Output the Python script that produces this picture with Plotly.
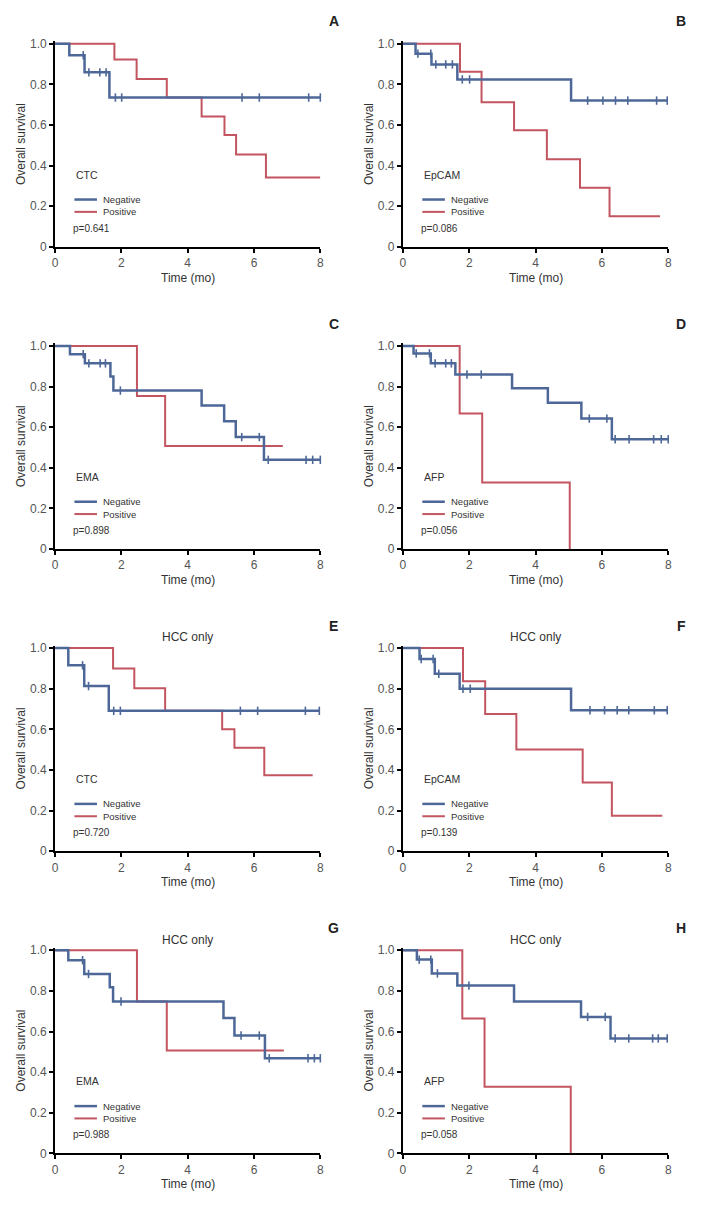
"""
Kaplan-Meier overall survival, 8 panels (A-D all patients, E-H HCC only).
"""

import plotly.graph_objects as go

BLUE = "#4d6898"
RED = "#c25560"
FONT = "Liberation Sans, Arial, sans-serif"

# ---- A: CTC ----
a_neg_t = [0, 0.43, 0.89, 1.64, 8.0]
a_neg_s = [1.0, 0.943, 0.859, 0.735, 0.735]
a_neg_cens = [0.85, 1.02, 1.35, 1.54, 1.82, 2.01, 5.64, 6.16, 7.65, 8.0]
a_pos_t = [0, 1.79, 2.46, 3.37, 4.42, 5.11, 5.46, 6.36, 8.0]
a_pos_s = [1.0, 0.922, 0.826, 0.735, 0.642, 0.551, 0.455, 0.341, 0.341]

# ---- B: EpCAM ----
b_neg_t = [0, 0.38, 0.86, 1.64, 5.07, 7.97]
b_neg_s = [1.0, 0.951, 0.898, 0.824, 0.72, 0.72]
b_neg_cens = [0.45, 0.84, 0.99, 1.29, 1.49, 1.79, 2.01, 5.57, 6.03, 6.41, 6.78, 7.65, 7.97]
b_pos_t = [0, 1.72, 2.37, 3.35, 4.34, 5.34, 6.23, 7.75]
b_pos_s = [1.0, 0.862, 0.712, 0.574, 0.431, 0.291, 0.151, 0.151]

# ---- C: EMA ----
c_neg_t = [0, 0.45, 0.90, 1.67, 1.76, 4.42, 5.10, 5.45, 6.30, 8.0]
c_neg_s = [1.0, 0.959, 0.914, 0.849, 0.78, 0.706, 0.629, 0.551, 0.439, 0.439]
c_neg_cens = [0.85, 1.02, 1.36, 1.52, 1.97, 5.63, 6.16, 6.43, 7.57, 7.77, 8.0]
c_pos_t = [0, 2.47, 3.32, 6.87]
c_pos_s = [1.0, 0.753, 0.507, 0.507]

# ---- D: AFP ----
d_neg_t = [0, 0.32, 0.84, 1.58, 3.29, 4.37, 5.38, 6.30, 8.0]
d_neg_s = [1.0, 0.963, 0.914, 0.859, 0.792, 0.72, 0.642, 0.54, 0.54]
d_neg_cens = [0.40, 0.80, 0.97, 1.29, 1.46, 1.93, 2.36, 5.62, 6.15, 6.40, 6.82, 7.56, 7.79, 8.0]
d_pos_t = [0, 1.71, 2.39, 5.03]
d_pos_s = [1.0, 0.667, 0.328, 0.0]

# ---- E: CTC, HCC only ----
e_neg_t = [0, 0.40, 0.88, 1.62, 7.97]
e_neg_s = [1.0, 0.915, 0.813, 0.691, 0.691]
e_neg_cens = [0.83, 1.01, 1.77, 1.97, 5.59, 6.11, 7.55, 7.97]
e_pos_t = [0, 1.75, 2.39, 3.32, 5.04, 5.41, 6.31, 7.77]
e_pos_s = [1.0, 0.899, 0.802, 0.691, 0.6, 0.509, 0.374, 0.374]

# ---- F: EpCAM, HCC only ----
f_neg_t = [0, 0.50, 0.96, 1.71, 5.07, 7.97]
f_neg_s = [1.0, 0.946, 0.873, 0.80, 0.694, 0.694]
f_neg_cens = [0.55, 0.91, 1.08, 1.81, 2.03, 5.64, 6.08, 6.46, 6.81, 7.58, 7.97]
f_pos_t = [0, 1.81, 2.48, 3.42, 5.42, 6.30, 7.82]
f_pos_s = [1.0, 0.837, 0.675, 0.501, 0.338, 0.174, 0.174]

# ---- G: EMA, HCC only ----
g_neg_t = [0, 0.40, 0.88, 1.65, 1.75, 5.08, 5.41, 6.33, 8.0]
g_neg_s = [1.0, 0.951, 0.883, 0.818, 0.748, 0.667, 0.58, 0.468, 0.468]
g_neg_cens = [0.83, 1.01, 1.99, 5.61, 6.16, 6.46, 7.63, 7.82, 8.0]
g_pos_t = [0, 2.47, 3.37, 6.90]
g_pos_s = [1.0, 0.748, 0.507, 0.507]

# ---- H: AFP, HCC only ----
h_neg_t = [0, 0.42, 0.87, 1.64, 3.35, 5.37, 6.26, 7.97]
h_neg_s = [1.0, 0.954, 0.886, 0.826, 0.748, 0.672, 0.566, 0.566]
h_neg_cens = [0.49, 0.84, 1.04, 1.99, 5.57, 6.10, 6.40, 6.81, 7.53, 7.70, 7.97]
h_pos_t = [0, 1.79, 2.46, 5.06]
h_pos_s = [1.0, 0.664, 0.328, 0.0]

letters = ["A", "B", "C", "D", "E", "F", "G", "H"]
markers = ["CTC", "EpCAM", "EMA", "AFP", "CTC", "EpCAM", "EMA", "AFP"]
p_values = ["0.641", "0.086", "0.898", "0.056", "0.720", "0.139", "0.988", "0.058"]
hcc_only = [False, False, False, False, True, True, True, True]
y_ticks = [0, 0.2, 0.4, 0.6, 0.8, 1.0]
y_tick_text = ["0", "0.2", "0.4", "0.6", "0.8", "1.0"]
x_ticks = [0, 2, 4, 6, 8]

panels = [
    (a_neg_t, a_neg_s, a_neg_cens, a_pos_t, a_pos_s),
    (b_neg_t, b_neg_s, b_neg_cens, b_pos_t, b_pos_s),
    (c_neg_t, c_neg_s, c_neg_cens, c_pos_t, c_pos_s),
    (d_neg_t, d_neg_s, d_neg_cens, d_pos_t, d_pos_s),
    (e_neg_t, e_neg_s, e_neg_cens, e_pos_t, e_pos_s),
    (f_neg_t, f_neg_s, f_neg_cens, f_pos_t, f_pos_s),
    (g_neg_t, g_neg_s, g_neg_cens, g_pos_t, g_pos_s),
    (h_neg_t, h_neg_s, h_neg_cens, h_pos_t, h_pos_s),
]

# page body has an 8px margin; figure sized so the page fits the window
OFF = 8
W, H = 702 - 2 * OFF, 1208 - 2 * OFF
Y_TOP = 1.012  # small headroom so the 1.0 line is not clipped
col_px = [(52.5, 320.5), (404, 672)]
row_px = [(40, 245), (345, 550), (650, 855), (955, 1160)]


def step_value(ts, ss, x):
    val = ss[0]
    for t, s in zip(ts, ss):
        if t <= x:
            val = s
    return val


fig = go.Figure()
annotations = []
shapes = []


def note(text, x, y, xd, yd, size=10, **kw):
    kw.setdefault("xanchor", "left")
    annotations.append(dict(
        text=text, x=x, y=y, xref=xd, yref=yd, yanchor="middle",
        showarrow=False, font=dict(family=FONT, size=size, color="#333333"), **kw,
    ))


for i, (neg_t, neg_s, neg_c, pos_t, pos_s) in enumerate(panels):
    n = i + 1
    xa = "x" if n == 1 else f"x{n}"
    ya = "y" if n == 1 else f"y{n}"
    row, col = divmod(i, 2)
    x0, x1 = col_px[col]
    y0, y1 = row_px[row]
    y0 = y1 - (y1 - y0) * Y_TOP

    fig.add_trace(go.Scatter(
        x=pos_t, y=pos_s, mode="lines", line=dict(color=RED, width=2, shape="hv"),
        xaxis=xa, yaxis=ya, showlegend=False, name="Positive",
    ))
    fig.add_trace(go.Scatter(
        x=neg_t, y=neg_s, mode="lines", line=dict(color=BLUE, width=2.5, shape="hv"),
        xaxis=xa, yaxis=ya, showlegend=False, name="Negative",
    ))
    fig.add_trace(go.Scatter(
        x=neg_c, y=[step_value(neg_t, neg_s, c) for c in neg_c], mode="markers",
        marker=dict(symbol="line-ns", size=6, line=dict(color=BLUE, width=1.6)),
        xaxis=xa, yaxis=ya, showlegend=False, cliponaxis=False, hoverinfo="skip",
    ))

    axis_common = dict(
        showline=True, linecolor="black", linewidth=2, ticks="outside",
        ticklen=4, tickwidth=1.5, tickcolor="black", showgrid=False, zeroline=False,
        tickfont=dict(family=FONT, size=12, color="#555555"),
    )
    fig.layout[f"xaxis{'' if n == 1 else n}"] = dict(
        axis_common, domain=[(x0 - OFF) / W, (x1 - OFF) / W], range=[0, 8],
        tickvals=x_ticks, anchor=ya,
    )
    fig.layout[f"yaxis{'' if n == 1 else n}"] = dict(
        axis_common, domain=[1 - (y1 - OFF) / H, 1 - (y0 - OFF) / H],
        range=[0, Y_TOP], tickvals=y_ticks, ticktext=y_tick_text, anchor=xa,
    )

    xd, yd = f"{xa} domain", f"{ya} domain"
    note("Time (mo)", 0.5, 0, xd, yd, size=12, xanchor="center", yshift=-31)
    note("Overall survival", 0, 0.5, xd, yd, size=12, xanchor="center",
         xshift=-34, textangle=-90)
    annotations.append(dict(
        text=f"<b>{letters[i]}</b>", x=1.05, y=1.097, xref=xd, yref=yd,
        xanchor="center", yanchor="middle", showarrow=False,
        font=dict(family=FONT, size=14, color="#222222"),
    ))
    note(markers[i], 0.07, 0.35, xd, yd, size=10.5)
    note("Negative", 0.172, 0.23, xd, yd, size=9.5)
    note("Positive", 0.172, 0.17, xd, yd, size=9.5)
    note(f"p={p_values[i]}", 0.062, 0.09, xd, yd, size=10)
    if hcc_only[i]:
        note("HCC only", 0.5, 1.04, xd, yd, size=12, xanchor="center")
    shapes += [
        dict(type="line", xref=xd, yref=yd, x0=0.073, x1=0.158, y0=0.23, y1=0.23,
             line=dict(color=BLUE, width=2.5)),
        dict(type="line", xref=xd, yref=yd, x0=0.073, x1=0.158, y0=0.17, y1=0.17,
             line=dict(color=RED, width=2)),
    ]

fig.update_layout(
    width=W, height=H, margin=dict(l=0, r=0, t=0, b=0),
    paper_bgcolor="white", plot_bgcolor="white",
    annotations=annotations, shapes=shapes, showlegend=False,
)

fig.write_html("out.html")
